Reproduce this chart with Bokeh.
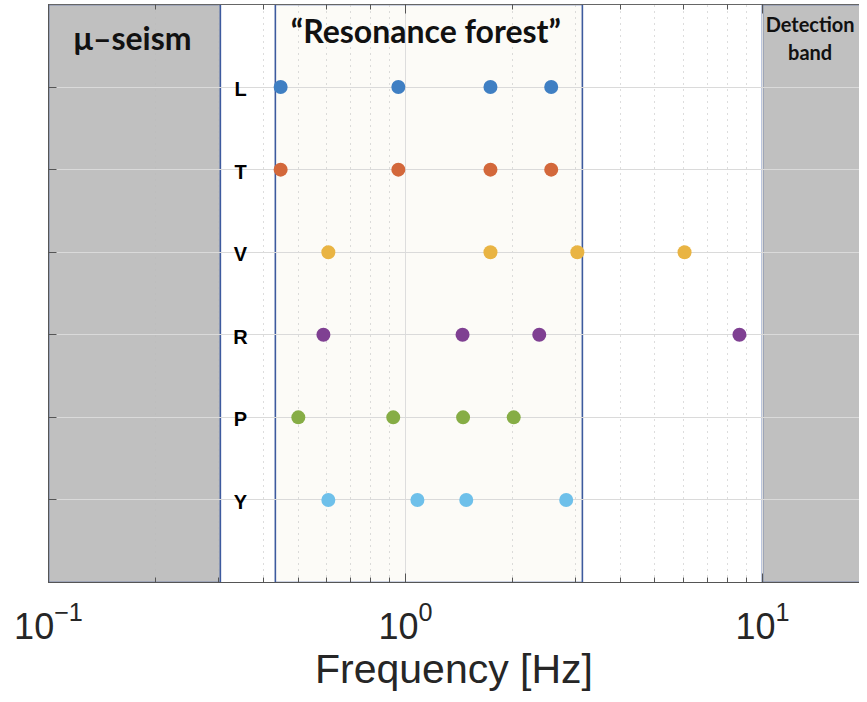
from bokeh.plotting import figure
from bokeh.models import Range1d, LogAxis, LogTicker, FixedTicker, Label
from bokeh.core.properties import value
from bokeh.embed import file_html
from bokeh.resources import INLINE

# categories (top to bottom) and their row positions
modes = ["L", "T", "V", "R", "P", "Y"]
mode_y = [6, 5, 4, 3, 2, 1]

# resonance frequencies in Hz
freq_L = [0.447, 0.955, 1.73, 2.56]
freq_T = [0.447, 0.955, 1.73, 2.56]
freq_V = [0.608, 1.73, 3.03, 6.05]
freq_R = [0.589, 1.445, 2.37, 8.62]
freq_P = [0.501, 0.924, 1.45, 2.01]
freq_Y = [0.608, 1.08, 1.48, 2.82]
all_freqs = [freq_L, freq_T, freq_V, freq_R, freq_P, freq_Y]
mode_colors = ["#3F7FC3", "#D3683B", "#E9B443", "#7F4092", "#86AD45", "#6EC0EA"]

# frequency bands (Hz)
band_names = ["μ–seism", "Resonance forest", "Detection band"]
band_left = [0.1, 0.432, 10.0]
band_right = [0.303, 3.13, 100.0]
band_fill = ["#C0C0C0", "#FCFBF7", "#C0C0C0"]

x_min, x_max = 0.1, 18.7

p = figure(width=859, height=694, x_axis_type="log",
           x_range=Range1d(x_min, x_max), y_range=Range1d(0, 7),
           output_backend="svg", toolbar_location=None,
           min_border_left=48, min_border_right=0, min_border_top=4,
           min_border_bottom=0)
p.background_fill_color = "white"
p.outline_line_color = "#666666"

# bands underneath the grid
p.quad(left=band_left, right=band_right, bottom=[0] * 3, top=[7] * 3,
       fill_color=band_fill, line_color="#3D5A9E", line_width=1.6,
       level="image")

# grid
p.xgrid.grid_line_color = "#DDDDDD"
p.xgrid.minor_grid_line_color = "#BBBBBB"
p.xgrid.minor_grid_line_dash = "1 5"
p.ygrid.ticker = FixedTicker(ticks=mode_y)
p.ygrid.grid_line_color = "#DADADA"

# x axis (bottom)
xa = p.xaxis[0]
xa.axis_label = "Frequency [Hz]"
xa.axis_label_text_font = "Liberation Sans"
xa.axis_label_text_font_style = "normal"
xa.axis_label_text_font_size = "41px"
xa.axis_label_text_color = "#262626"
xa.axis_label_standoff = 4
xa.major_label_text_font = "Liberation Sans"
xa.major_label_text_font_size = "36px"
xa.major_label_text_color = "#262626"
xa.major_label_standoff = 18
xa.major_tick_in = 9
xa.major_tick_out = 0
xa.minor_tick_in = 5
xa.minor_tick_out = 0
xa.axis_line_color = "#555555"
xa.major_tick_line_color = "#555555"
xa.minor_tick_line_color = "#555555"

# top axis with ticks only
ta = LogAxis(ticker=LogTicker())
ta.major_label_text_font_size = "1px"
ta.major_label_text_alpha = 0
ta.major_label_standoff = 0
ta.major_tick_in = 9
ta.major_tick_out = 0
ta.minor_tick_in = 5
ta.minor_tick_out = 0
ta.axis_line_color = "#666666"
ta.major_tick_line_color = "#555555"
ta.minor_tick_line_color = "#555555"
p.add_layout(ta, "above")

# y axis: ticks only
ya = p.yaxis[0]
ya.ticker = FixedTicker(ticks=mode_y)
ya.major_label_text_font_size = "1px"
ya.major_label_text_alpha = 0
ya.major_label_standoff = 0
ya.major_tick_in = 8
ya.major_tick_out = 0
ya.minor_tick_line_color = None
ya.axis_line_color = "#555555"
ya.major_tick_line_color = "#555555"

# resonance dots
for freqs, yv, col in zip(all_freqs, mode_y, mode_colors):
    p.scatter(x=freqs, y=[yv] * len(freqs), size=14, fill_color=col,
              line_color=None)

# row labels
p.text(x=[0.345] * len(modes), y=mode_y, text=modes, text_align="center",
       text_baseline="middle", y_offset=2,
       text_font=value("Liberation Sans"), text_font_style="bold",
       text_font_size="20px", text_color="black")

# band titles
p.add_layout(Label(x=0.172, y=6.6, text="μ–seism", text_align="center",
                   text_baseline="middle", text_font="Lato",
                   text_font_style="bold", text_font_size="32px",
                   text_color="#111111"))
p.add_layout(Label(x=1.14, y=6.68, text="“Resonance forest”",
                   text_align="center", text_baseline="middle",
                   text_font="Lato", text_font_style="bold",
                   text_font_size="32px", text_color="#111111"))
p.add_layout(Label(x=13.6, y=6.76, text="Detection", text_align="center",
                   text_baseline="middle", text_font="Lato",
                   text_font_style="bold", text_font_size="20px",
                   text_color="#111111"))
p.add_layout(Label(x=13.6, y=6.42, text="band", text_align="center",
                   text_baseline="middle", text_font="Lato",
                   text_font_style="bold", text_font_size="20px",
                   text_color="#111111"))

open("out.html", "w").write(file_html(p, INLINE))
